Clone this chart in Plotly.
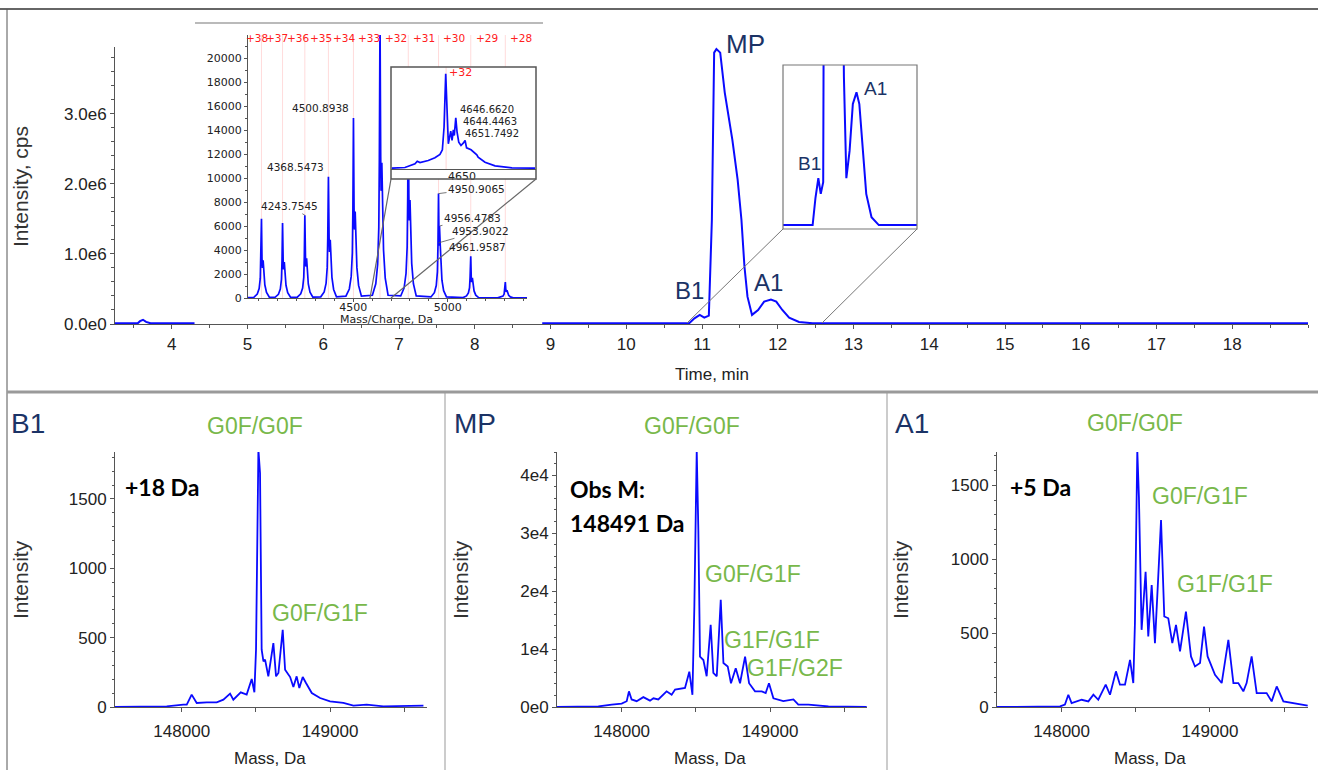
import plotly.graph_objects as go

# ---------------- DATA ----------------
# Total ion chromatogram (time in min, intensity in 1e6 cps); gap = region hidden behind the inset
chrom_time = [3.25, 3.55, 3.58, 3.62, 3.66, 3.72, 4.30, None, 8.89, 10.83, 10.90, 10.97, 11.03, 11.09,
              11.13, 11.16, 11.19, 11.24, 11.30, 11.40, 11.47, 11.52, 11.56, 11.60, 11.66, 11.74, 11.82,
              11.91, 11.98, 12.06, 12.15, 12.28, 12.46, 19.0]
chrom_int = [0.01, 0.01, 0.04, 0.06, 0.03, 0.01, 0.01, None, 0.01, 0.01, 0.08, 0.13, 0.09, 0.12,
             1.49, 3.87, 3.92, 3.87, 3.30, 2.63, 2.06, 1.49, 0.82, 0.39, 0.13, 0.20, 0.32,
             0.35, 0.32, 0.20, 0.09, 0.03, 0.01, 0.01]
time_ticks = [4, 5, 6, 7, 8, 9, 10, 11, 12, 13, 14, 15, 16, 17, 18]
chrom_yticks = [0, 1, 2, 3]
chrom_ytext = ["0.0e0", "1.0e6", "2.0e6", "3.0e6"]

# Charge-state envelope (inset mass spectrum)
charges = [38, 37, 36, 35, 34, 33, 32, 31, 30, 29, 28]
cs_mz = [3908.7, 4014.3, 4125.8, 4243.7, 4368.5, 4500.9, 4641.4, 4791.0, 4950.9, 5121.4, 5304.3]
ms_mz = [3943,
         3974, 3992, 4002, 4008, 4011, 4014.3, 4017, 4019, 4023, 4027, 4032, 4041, 4056,
         4086, 4104, 4114, 4120, 4123, 4125.8, 4129, 4131, 4135, 4139, 4144, 4153, 4168,
         4204, 4222, 4232, 4238, 4241, 4243.7, 4247, 4249, 4253, 4257, 4262, 4271, 4286,
         4328, 4346, 4356, 4362, 4365, 4368.5, 4372, 4374, 4378, 4382, 4387, 4396, 4411,
         4461, 4479, 4489, 4495, 4498, 4500.9, 4504, 4506, 4510, 4514, 4519, 4528, 4543,
         4601, 4619, 4629, 4635, 4638, 4641.4, 4645, 4647, 4651, 4655, 4660, 4669, 4684,
         4751, 4769, 4779, 4785, 4788, 4791.0, 4794, 4796, 4800, 4804, 4809, 4818, 4833,
         4911, 4929, 4939, 4945, 4948, 4950.9, 4954, 4956, 4960, 4964, 4969, 4978, 4993,
         5081, 5099, 5109, 5115, 5118, 5121.4, 5124, 5126, 5130, 5134, 5139, 5148, 5163,
         5264, 5282, 5292, 5298, 5301, 5304.3, 5307, 5309, 5313, 5317, 5322, 5331, 5346,
         5419]
ms_int = [30,
          60, 330, 790, 1650, 3300, 6600, 3300, 2500, 3150, 1850, 1100, 460, 60,
          60, 310, 750, 1560, 3120, 6250, 3100, 2380, 3000, 1750, 1060, 440, 60,
          70, 350, 830, 1730, 3450, 6900, 3450, 2620, 3310, 1930, 1170, 480, 70,
          100, 500, 1210, 2530, 5050, 10100, 5050, 3840, 4850, 2830, 1720, 710, 100,
          150, 750, 1800, 3750, 7500, 15000, 7500, 5700, 7200, 4200, 2550, 1050, 150,
          230, 1180, 2820, 5880, 11750, 23500, 11750, 8930, 11280, 6580, 4000, 1650, 230,
          170, 850, 2040, 4250, 8500, 17000, 8500, 6460, 8160, 4760, 2890, 1190, 170,
          90, 440, 1040, 2180, 4350, 8700, 4350, 6000, 4400, 2440, 1480, 610, 90,
          35, 170, 420, 870, 1740, 3470, 1740, 1320, 1670, 970, 590, 240, 35,
          15, 70, 160, 330, 670, 1330, 670, 510, 640, 370, 230, 90, 15,
          10]
ms_yticks = [0, 2000, 4000, 6000, 8000, 10000, 12000, 14000, 16000, 18000, 20000]
ms_xticks = [4500, 5000]

# Zoom on the +32 charge state
zoom_mz = [4612.2, 4619.3, 4624.7, 4625.9, 4627.4, 4629.2, 4631.8, 4635.4, 4638.1, 4639.4, 4640.3,
           4641.2, 4641.9, 4642.6, 4643.9, 4644.6, 4645.3, 4645.8, 4646.6, 4647.3, 4648.2, 4649.4,
           4650.6, 4651.6, 4652.4, 4654.8, 4657.9, 4658.6, 4662.3, 4667.7, 4676.7, 4689.2]
zoom_int = [185, 350, 1200, 1800, 1500, 1660, 1960, 2590, 3350, 4440, 9660,
            22000, 13500, 5820, 8740, 6590, 9060, 7740, 11830, 8500, 6200, 5430,
            5960, 6590, 4900, 4440, 3280, 2730, 1570, 740, 280, 185]
zoom_ticks = [4650]

# Deconvoluted spectra
b1_mass = [147550, 147899, 148011, 148034, 148067, 148101, 148169, 148236, 148281, 148326, 148348,
           148398, 148438, 148472, 148490, 148501, 148517, 148528, 148539, 148551, 148562, 148584,
           148618, 148636, 148652, 148681, 148697, 148731, 148753, 148775, 148793, 148816, 148838,
           148877, 148933, 149000, 149090, 149158, 149247, 149360, 149630]
b1_int = [0, 5, 17, 17, 89, 29, 34, 34, 53, 96, 53,
          106, 89, 202, 106, 413, 1855, 1687, 413, 329, 341, 221,
          461, 221, 245, 557, 269, 216, 144, 221, 137, 216, 173,
          101, 65, 41, 29, 10, 17, 5, 10]
mp_mass = [147562, 147843, 147933, 148000, 148034, 148049, 148067, 148101, 148146, 148191, 148214,
           148247, 148303, 148337, 148360, 148427, 148456, 148477, 148490, 148506, 148517, 148528,
           148551, 148573, 148600, 148618, 148641, 148668, 148686, 148715, 148737, 148769, 148798,
           148832, 148859, 148899, 148944, 148971, 148993, 149023, 149090, 149158, 149191, 149259,
           149394, 149652]
mp_int = [0, 100, 400, 600, 1000, 2700, 1300, 1000, 1700, 1100, 1500,
          1300, 2700, 2100, 3000, 3300, 6100, 2100, 17300, 44300, 30500, 8700,
          8100, 5300, 14200, 5900, 5300, 18500, 7600, 7000, 4100, 6700, 4100,
          8700, 4100, 2700, 2700, 2400, 4100, 1500, 1000, 1300, 400, 400,
          100, 0]
a1_mass = [147562, 147989, 148022, 148045, 148067, 148135, 148180, 148214, 148247, 148297, 148326,
           148366, 148393, 148427, 148461, 148483, 148494, 148510, 148521, 148539, 148566, 148584,
           148607, 148629, 148670, 148692, 148719, 148746, 148771, 148798, 148838, 148872, 148899,
           148933, 148960, 148984, 149034, 149079, 149124, 149158, 149191, 149225, 149247, 149281,
           149315, 149382, 149416, 149450, 149495, 149551, 149659]
a1_int = [0, 4, 16, 83, 27, 49, 38, 83, 49, 151, 83,
          241, 151, 151, 319, 162, 567, 1736, 1421, 522, 915, 477,
          825, 432, 1264, 612, 600, 432, 555, 376, 645, 342, 274,
          297, 544, 342, 218, 162, 454, 162, 162, 106, 162, 342,
          94, 94, 38, 139, 38, 27, 9]
mass_ticks = [148000, 149000]
b1_yticks = [0, 500, 1000, 1500]
mp_yticks = [0, 10000, 20000, 30000, 40000]
mp_ytext = ["0e0", "1e4", "2e4", "3e4", "4e4"]
a1_yticks = [0, 500, 1000, 1500]

# ---------------- STYLE / LAYOUT HELPERS ----------------
W, H = 1318, 770
def px(x):
    return x / W
def py(y):
    return 1 - y / H

ARIAL = "Liberation Sans, Arial, sans-serif"
WIDE = "DejaVu Sans, Verdana, sans-serif"
BOLD = "Lato, Open Sans, sans-serif"
NAVY = "#1b3366"
GREEN = "#78b84a"
BLUE = "#0a0aff"
AX = "#555555"
TXT = "#222222"

fig = go.Figure()

# 1 main chromatogram
fig.add_trace(go.Scatter(x=chrom_time, y=chrom_int, mode="lines", line=dict(color=BLUE, width=2),
                         xaxis="x", yaxis="y"))
# 2 inset spectrum: charge-state marker lines + spectrum
cs_x, cs_y = [], []
for m in cs_mz:
    cs_x += [m, m, None]
    cs_y += [0, 21920, None]
fig.add_trace(go.Scatter(x=cs_x, y=cs_y, mode="lines", line=dict(color="rgba(255,90,90,0.22)", width=1),
                         xaxis="x2", yaxis="y2"))
fig.add_trace(go.Scatter(x=ms_mz, y=ms_int, mode="lines", line=dict(color=BLUE, width=1.7),
                         xaxis="x2", yaxis="y2"))
# 3 white backing of the zoom box
fig.add_trace(go.Scatter(x=[None], y=[None], mode="lines", xaxis="x3", yaxis="y3"))
# 4 zoom of +32
fig.add_trace(go.Scatter(x=[cs_mz[6], cs_mz[6]], y=[0, 23570], mode="lines",
                         line=dict(color="rgba(255,90,90,0.25)", width=1), xaxis="x4", yaxis="y4"))
fig.add_trace(go.Scatter(x=zoom_mz, y=zoom_int, mode="lines", line=dict(color=BLUE, width=1.7),
                         xaxis="x4", yaxis="y4"))
# 5 chromatogram zoom
fig.add_trace(go.Scatter(x=chrom_time, y=chrom_int, mode="lines", line=dict(color=BLUE, width=2),
                         xaxis="x5", yaxis="y5"))
# 6-8 deconvoluted spectra
fig.add_trace(go.Scatter(x=b1_mass, y=b1_int, mode="lines", line=dict(color=BLUE, width=1.8),
                         xaxis="x6", yaxis="y6"))
fig.add_trace(go.Scatter(x=mp_mass, y=mp_int, mode="lines", line=dict(color=BLUE, width=1.8),
                         xaxis="x7", yaxis="y7"))
fig.add_trace(go.Scatter(x=a1_mass, y=a1_int, mode="lines", line=dict(color=BLUE, width=1.8),
                         xaxis="x8", yaxis="y8"))

def axis(**kw):
    d = dict(showgrid=False, zeroline=False, showline=True, linecolor=AX, linewidth=1,
             ticks="outside", tickcolor=AX, ticklen=4, tickwidth=1, fixedrange=True,
             automargin=False)
    d.update(kw)
    return d

def hidden(**kw):
    d = dict(showgrid=False, zeroline=False, showline=False, showticklabels=False, ticks="",
             automargin=False, fixedrange=True)
    d.update(kw)
    return d

big_font = dict(family=ARIAL, size=17, color=TXT)
small_font = dict(family=WIDE, size=11, color=TXT)

layout_axes = dict(
    xaxis=axis(domain=[px(115), px(1308)], range=[3.25, 19.0], anchor="y",
               tickmode="array", tickvals=time_ticks, ticktext=[str(t) for t in time_ticks],
               tickfont=big_font, ticklabelstandoff=1,
               minor=dict(tick0=0, dtick=0.5, ticks="outside", ticklen=3, tickcolor=AX)),
    yaxis=axis(domain=[py(324), py(47)], range=[0, 3.95], anchor="x",
               tickmode="array", tickvals=chrom_yticks, ticktext=chrom_ytext, tickfont=big_font,
               minor=dict(tick0=0, dtick=0.2, ticks="outside", ticklen=3, tickcolor=AX)),
    xaxis2=axis(domain=[px(248), px(527)], range=[3943, 5419], anchor="y2",
                tickmode="array", tickvals=ms_xticks, ticktext=[str(t) for t in ms_xticks],
                tickfont=small_font, ticklen=3, ticklabelstandoff=-4,
                minor=dict(tick0=0, dtick=100, ticks="outside", ticklen=2, tickcolor=AX)),
    yaxis2=axis(domain=[py(298), py(35)], range=[0, 21920], anchor="x2",
                tickmode="array", tickvals=ms_yticks, ticktext=[str(t) for t in ms_yticks],
                tickfont=small_font, ticklen=3,
                minor=dict(tick0=0, dtick=1000, ticks="outside", ticklen=2, tickcolor=AX)),
    xaxis3=hidden(domain=[px(391), px(536)], anchor="y3", range=[0, 1]),
    yaxis3=hidden(domain=[py(179), py(67)], anchor="x3", range=[0, 1]),
    xaxis4=axis(domain=[px(391), px(536)], range=[4611.8, 4689.7], anchor="y4",
                tickmode="array", tickvals=zoom_ticks, ticktext=[str(t) for t in zoom_ticks],
                ticks="", ticklabelstandoff=-3, tickfont=dict(family=WIDE, size=11, color=TXT)),
    yaxis4=hidden(domain=[py(169), py(67)], range=[0, 23570], anchor="x4"),
    xaxis5=hidden(domain=[px(783), px(917)], range=[10.1, 13.4], anchor="y5"),
    yaxis5=hidden(domain=[py(229), py(65)], range=[0, 0.42], anchor="x5"),
)

panels = [
    ("6", 115, 427, [147550, 149654], [0, 1838], b1_yticks, [str(v) for v in b1_yticks], 100),
    ("7", 557, 867, [147564, 149654], [0, 44000], mp_yticks, mp_ytext, 2000),
    ("8", 997, 1308, [147564, 149661], [0, 1725], a1_yticks, [str(v) for v in a1_yticks], 100),
]
for n, x0, x1, xr, yr, yt, ytt, ymin in panels:
    layout_axes["xaxis" + n] = axis(domain=[px(x0), px(x1)], range=xr, anchor="y" + n,
                                    tickmode="array", tickvals=mass_ticks,
                                    ticktext=[str(t) for t in mass_ticks], tickfont=big_font,
                                    ticklabelstandoff=5,
                                    minor=dict(tick0=0, dtick=500, ticks="outside", ticklen=4,
                                               tickcolor=AX))
    layout_axes["yaxis" + n] = axis(domain=[py(707), py(452)], range=yr, anchor="x" + n,
                                    tickmode="array", tickvals=yt, ticktext=ytt, tickfont=big_font,
                                    minor=dict(tick0=0, dtick=ymin, ticks="outside", ticklen=2,
                                               tickcolor=AX))

# ---------------- ANNOTATIONS ----------------
ann = []
def text(t, x, y, size, color=TXT, family=ARIAL, angle=0, xanchor="center", weight="normal"):
    ann.append(dict(x=px(x), y=py(y), xref="paper", yref="paper", text=t, showarrow=False,
                    xanchor=xanchor, yanchor="middle", textangle=angle,
                    font=dict(family=family, size=size, color=color, weight=weight)))

# main chromatogram
text("MP", 745, 44, 26, NAVY)
text("B1", 689, 290, 24, NAVY)
text("A1", 768, 282, 24, NAVY)
text("B1", 809, 163, 19, NAVY)
text("A1", 875, 88, 19, NAVY)
text("Intensity, cps", 20, 187, 21, "#333", ARIAL, angle=-90)
text("Time, min", 712, 374, 17)
text("Mass/Charge, Da", 386, 319, 11, TXT, WIDE)

# charge state labels
for z, m in zip(charges, cs_mz):
    ann.append(dict(x=m + 84, y=py(38), xref="x2", yref="paper", text="+%d" % z, showarrow=False,
                    xanchor="center", yanchor="middle",
                    font=dict(family=WIDE, size=10.5, color="#ff2020")))
ann.append(dict(x=cs_mz[6], y=py(72), xref="x4", yref="paper", text="+32", showarrow=False,
                xanchor="left", yanchor="middle", xshift=1,
                font=dict(family=WIDE, size=11, color="#ff2020")))

# peak labels in the inset spectrum
arrow_labels = [("4243.7545", 4243.7, 6900, -15, -9),
                ("4950.9065", 4950.9, 8700, 38, -5),
                ("4956.4783", 4956.0, 6000, 33, -8),
                ("4953.9022", 4952.0, 4600, 42, -12)]
for t, m, v, axp, ayp in arrow_labels:
    ann.append(dict(x=m, y=v, xref="x2", yref="y2", text=t, showarrow=True, ax=axp, ay=ayp,
                    arrowhead=0, arrowwidth=0.8, arrowcolor="#555", standoff=0,
                    font=dict(family=WIDE, size=10.5, color=TXT)))
text("4368.5473", 295, 167, 10.5, TXT, WIDE)
text("4500.8938", 320, 108, 10.5, TXT, WIDE)
text("4961.9587", 477, 247, 10.5, TXT, WIDE)
text("4646.6620", 487, 110, 10, TXT, WIDE)
text("4644.4463", 490, 121, 10, TXT, WIDE)
text("4651.7492", 492, 133, 10, TXT, WIDE)

# bottom panels
for t, x in [("B1", 28), ("MP", 475), ("A1", 912)]:
    text(t, x, 424, 28, NAVY)
for t, x, y in [("G0F/G0F", 255, 426), ("G0F/G1F", 320, 613),
                ("G0F/G0F", 692, 426), ("G0F/G1F", 753, 574), ("G1F/G1F", 772, 640),
                ("G1F/G2F", 795, 668),
                ("G0F/G0F", 1135, 423), ("G0F/G1F", 1200, 496), ("G1F/G1F", 1225, 584)]:
    text(t, x, y, 23, GREEN)
text("+18 Da", 123, 487, 23, "black", BOLD, xanchor="left", weight="bold")
text("Obs M:", 568, 489, 23, "black", BOLD, xanchor="left", weight="bold")
text("148491 Da", 568, 523, 23, "black", BOLD, xanchor="left", weight="bold")
text("+5 Da", 1008, 487, 23, "black", BOLD, xanchor="left", weight="bold")
for x in [20, 460, 900]:
    text("Intensity", x, 580, 21, "#333", ARIAL, angle=-90)
for x in [270, 710, 1150]:
    text("Mass, Da", x, 758, 17)

# ---------------- SHAPES (frames, connectors) ----------------
shapes = []
def line(x0, y0, x1, y1, color, width):
    shapes.append(dict(type="line", xref="paper", yref="paper", x0=px(x0), y0=py(y0),
                       x1=px(x1), y1=py(y1), line=dict(color=color, width=width)))
def rect(x0, y0, x1, y1, color, width):
    shapes.append(dict(type="rect", xref="paper", yref="paper", x0=px(x0), y0=py(y0),
                       x1=px(x1), y1=py(y1), line=dict(color=color, width=width)))

line(0, 9, 1318, 9, "#666", 2)
line(7, 9, 7, 770, "#555", 1)
line(7, 392, 1318, 392, "#9a9a9a", 3)
line(445, 393, 445, 770, "#999", 1)
line(887, 393, 887, 770, "#999", 1)
line(195, 23, 543, 23, "#777", 1.2)
rect(391, 67, 536, 179, "#555", 1.5)
line(370, 298, 391, 179, "#666", 1.2)
line(391, 298, 536, 179, "#666", 1.2)
rect(783, 65, 917, 229, "#777", 1.2)
line(687, 323, 783, 229, "#777", 1)
line(822, 323, 917, 229, "#777", 1)

fig.update_layout(template="none", width=W, height=H,
                  margin=dict(l=0, r=0, t=0, b=0, pad=0, autoexpand=False), autosize=False,
                  paper_bgcolor="white", plot_bgcolor="white", showlegend=False, hovermode=False,
                  annotations=ann, shapes=shapes, **layout_axes)

fig.write_html("out.html", config={"displayModeBar": False},
               post_script="document.body.style.margin='0px';document.body.style.overflow='hidden';")
